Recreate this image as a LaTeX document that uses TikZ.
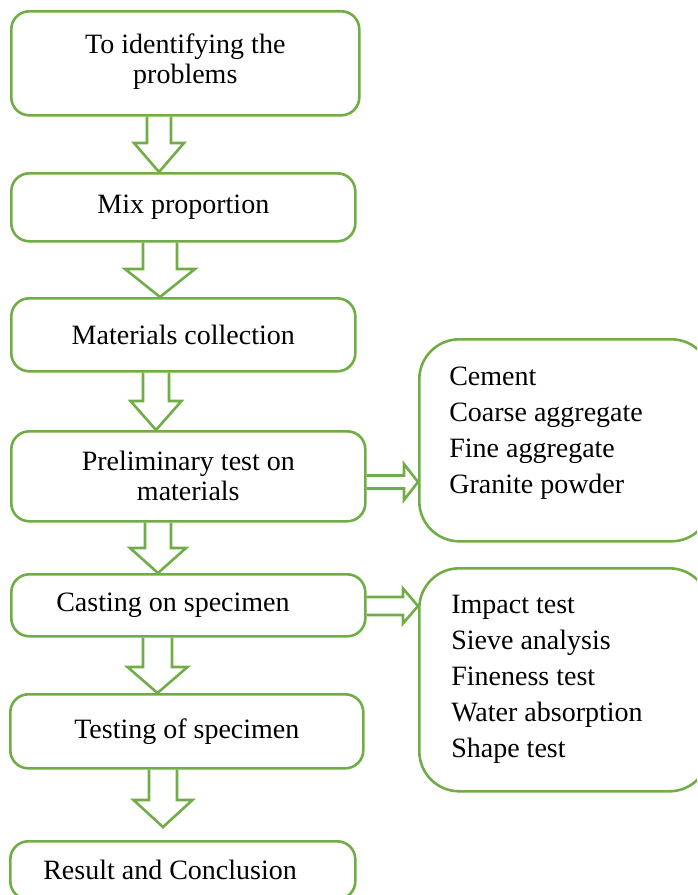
\documentclass[tikz,border=0pt]{standalone}
\usepackage{fontspec}
\setmainfont{Liberation Serif}
\usetikzlibrary{calc}
\definecolor{boxgreen}{RGB}{112, 173, 71}

% hollow block arrows: from, to, x/y, shaft half, head half, head length
\newcommand{\blockdown}[6]{%
  \draw[blockarrow] let \p1=(#1), \p2=(#2) in
    (#3pt-#4pt,\y1) -- (#3pt-#4pt,\y2+#6pt) -- (#3pt-#5pt,\y2+#6pt) -- (#3pt,\y2)
    -- (#3pt+#5pt,\y2+#6pt) -- (#3pt+#4pt,\y2+#6pt) -- (#3pt+#4pt,\y1);}
\newcommand{\blockright}[6]{%
  \draw[blockarrow] let \p1=(#1), \p2=(#2) in
    (\x1,-#3pt+#4pt) -- (\x2-#6pt,-#3pt+#4pt) -- (\x2-#6pt,-#3pt+#5pt) -- (\x2,-#3pt)
    -- (\x2-#6pt,-#3pt-#5pt) -- (\x2-#6pt,-#3pt-#4pt) -- (\x1,-#3pt-#4pt);}

\begin{document}
\begin{tikzpicture}[
  x=1pt, y=-1pt,
  stepbox/.style={
    draw=boxgreen, line width=2.6pt, rounded corners=18pt,
    anchor=north west, inner sep=0pt, align=center,
    font=\fontsize{28}{30}\selectfont,
  },
  listbox/.style={
    stepbox, rounded corners=40pt, align=flush left,
    font=\fontsize{28}{36}\selectfont,
  },
  blockarrow/.style={draw=boxgreen, line width=2.6pt, line join=miter},
]

\useasboundingbox (0,0) rectangle (697,895);
\clip (0,0) rectangle (697,895);

% Steps
\node[stepbox, minimum width=348pt, minimum height=104pt] (s1) at (10,10)
  {To identifying the\\problems\\[-20pt]\mbox{}};
\node[stepbox, minimum width=344pt, minimum height=68pt] (s2) at (10,172)
  {Mix proportion};
\node[stepbox, minimum width=344pt, minimum height=73pt] (s3) at (10,297)
  {Materials collection};
\node[stepbox, minimum width=354pt, minimum height=90pt] (s4) at (10,430)
  {Preliminary test on\\materials};
\node[stepbox, align=flush left, text width=264pt, inner xsep=45pt,
  minimum height=62pt] (s5) at (10,573) {Casting on specimen};
\node[stepbox, minimum width=353pt, minimum height=74pt] (s6) at (9,693)
  {Testing of specimen};
\node[stepbox, align=flush left, text width=279pt, inner xsep=33pt,
  minimum height=58pt] (s7) at (9,840) {Result and Conclusion};

% Lists
\node[listbox, text width=232pt, inner xsep=30pt, minimum height=202pt] (mat)
  at (418,338) {Cement\\Coarse aggregate\\Fine aggregate\\Granite powder\\[-16pt]\mbox{}};
\node[listbox, text width=226pt, inner xsep=32pt, minimum height=223pt] (tst)
  at (418,567) {Impact test\\Sieve analysis\\Fineness test\\Water absorption\\Shape test};

% Arrows
\coordinate (s7tip) at ($(s7.north)+(0,-13)$);
\blockdown{s1.south}{s2.north}{159}{12}{25}{29}
\blockdown{s2.south}{s3.north}{160}{17}{35}{28}
\blockdown{s3.south}{s4.north}{156}{13}{25.5}{29}
\blockdown{s4.south}{s5.north}{158}{13}{28}{25}
\blockdown{s5.south}{s6.north}{157.5}{14.5}{30}{26}
\blockdown{s6.south}{s7tip}{163}{14}{29.5}{27}
\blockright{s4.east}{mat.west}{482}{6.5}{18}{14}
\blockright{s5.east}{tst.west}{606}{9}{17.5}{15}

\end{tikzpicture}
\end{document}
